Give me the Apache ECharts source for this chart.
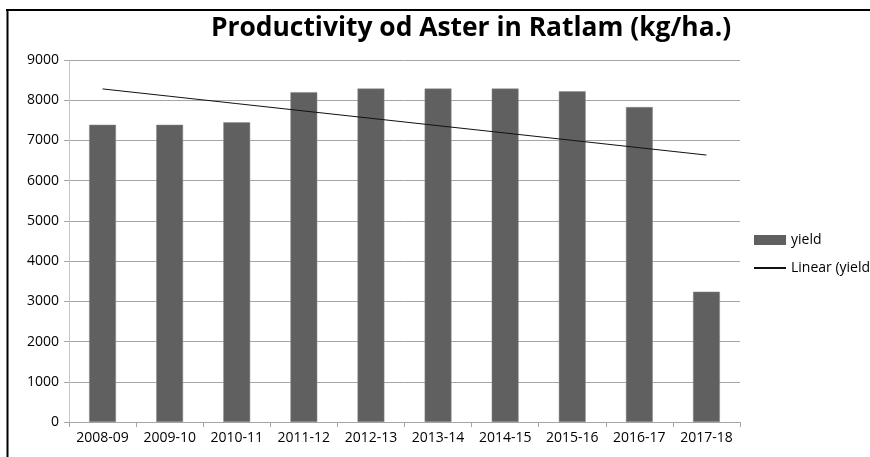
<!DOCTYPE html>
<html>
<head>
<meta charset="utf-8">
<script src="https://cdn.jsdelivr.net/npm/echarts@6/dist/echarts.min.js"></script>
<style>
  html, body { margin: 0; padding: 0; background: #fff; }
  #chart { width: 870px; height: 457px; }
</style>
</head>
<body>
<div id="chart"></div>
<script>
// Seasons and yield (kg/ha.)
const seasons = ['2008-09', '2009-10', '2010-11', '2011-12', '2012-13', '2013-14', '2014-15', '2015-16', '2016-17', '2017-18'];
const yieldValues = [7390, 7390, 7450, 8200, 8290, 8290, 8290, 8220, 7830, 3240];
const yTicks = { min: 0, max: 9000, interval: 1000 };

// Least-squares linear trend of the yield series
function linearTrend(values) {
  const n = values.length;
  let sx = 0, sy = 0, sxy = 0, sxx = 0;
  values.forEach((v, i) => { const x = i + 1; sx += x; sy += v; sxy += x * v; sxx += x * x; });
  const slope = (n * sxy - sx * sy) / (n * sxx - sx * sx);
  const intercept = (sy - slope * sx) / n;
  return values.map((_, i) => +(intercept + slope * (i + 1)).toFixed(1));
}
const trendValues = linearTrend(yieldValues);

const font = '"Open Sans", "Noto Sans", sans-serif';
const chart = echarts.init(document.getElementById('chart'), null, { renderer: 'canvas' });

chart.setOption({
  animation: false,
  backgroundColor: '#ffffff',
  title: {
    text: 'Productivity od Aster in Ratlam (kg/ha.)',
    left: 466, top: 10, textAlign: 'center',
    textStyle: { fontFamily: font, fontWeight: 'bold', fontSize: 26.4, color: '#000' }
  },
  grid: { left: 69, right: 130, top: 60, bottom: 35, containLabel: false },
  legend: {
    orient: 'vertical',
    left: 748, top: 228,
    itemGap: 14,
    itemWidth: 32, itemHeight: 10,
    textStyle: { fontFamily: font, fontSize: 14, color: '#000' },
    data: [
      { name: 'yield', icon: 'rect', itemStyle: { borderWidth: 0 } },
      { name: 'Linear (yield)', itemStyle: { opacity: 0 } }
    ]
  },
  xAxis: {
    type: 'category',
    data: seasons,
    axisLine: { lineStyle: { color: '#a6a6a6' } },
    axisTick: { show: true, length: 5, alignWithLabel: false, lineStyle: { color: '#a6a6a6' } },
    axisLabel: { fontFamily: font, fontSize: 14, color: '#000', margin: 9, interval: 0 }
  },
  yAxis: {
    type: 'value',
    min: yTicks.min, max: yTicks.max, interval: yTicks.interval,
    axisLine: { show: true, lineStyle: { color: '#c8c8c8' } },
    axisTick: { show: true, length: 5, lineStyle: { color: '#a6a6a6' } },
    axisLabel: { fontFamily: font, fontSize: 14, color: '#000', margin: 10, formatter: v => String(v) },
    splitLine: { lineStyle: { color: '#a6a6a6' } }
  },
  series: [
    {
      name: 'yield', type: 'bar', data: yieldValues, barWidth: '40%',
      itemStyle: { color: '#606060', borderColor: '#8a8a8a', borderWidth: 0.5 }
    },
    {
      name: 'Linear (yield)', type: 'line', data: trendValues,
      symbol: 'none', lineStyle: { color: '#111', width: 1 }, itemStyle: { color: '#111' }
    }
  ],
  graphic: [
    { type: 'line', shape: { x1: 6, y1: 10, x2: 870, y2: 10 }, style: { stroke: '#000', lineWidth: 2 } },
    { type: 'line', shape: { x1: 7.5, y1: 9, x2: 7.5, y2: 457 }, style: { stroke: '#000', lineWidth: 2 } }
  ]
});
</script>
</body>
</html>
